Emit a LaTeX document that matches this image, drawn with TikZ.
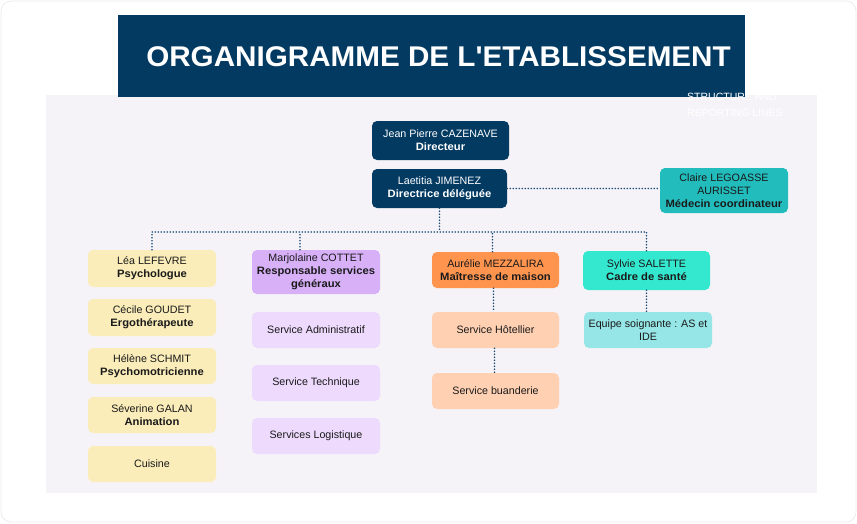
\documentclass[tikz,border=0pt]{standalone}
\usepackage{fontspec}
\setmainfont{Liberation Sans}[BoldFeatures={FakeStretch=1.05}]
\newfontfamily\titlefont{Liberation Sans Bold}[FakeStretch=1.04]
\definecolor{navy}{HTML}{033A62}
\definecolor{panel}{HTML}{F5F3F7}
\definecolor{teal}{HTML}{22BCBD}
\definecolor{yel}{HTML}{FAEDBA}
\definecolor{purh}{HTML}{D7B0F8}
\definecolor{purl}{HTML}{EDDAFD}
\definecolor{orh}{HTML}{FF944F}
\definecolor{orl}{HTML}{FFD0B2}
\definecolor{tqh}{HTML}{33E8CF}
\definecolor{tql}{HTML}{97E6E7}
\definecolor{dotc}{HTML}{1E4D78}
\definecolor{txt}{HTML}{1A1A1A}
\tikzset{
  x=1pt, y=-1pt,
  box/.style={rectangle, rounded corners=5pt, inner sep=0pt, align=center,
    minimum width=128pt, minimum height=37pt, text=txt,
    font=\fontsize{10.7}{12.8}\selectfont},
  navybox/.style={box, fill=navy, text=white, minimum height=39pt},
  dotline/.style={draw=dotc, line width=1.8pt, line cap=round, dash pattern=on 0pt off 3pt},
}
\begin{document}
\begin{tikzpicture}
\useasboundingbox (0,0) rectangle (857,523);
\draw[draw=black!8, rounded corners=10pt, line width=0.8pt] (1,1) rectangle (856,522);
\fill[panel] (46,95) rectangle (817,493);
\fill[navy] (118,15) rectangle (745,97);
\node[text=white, font=\titlefont\fontsize{28.5}{30}\selectfont] (title) at (438.5,57) {ORGANIGRAMME DE L'ETABLISSEMENT};
\node[text=white, anchor=west, align=left, inner sep=0pt, font=\fontsize{10.5}{16}\selectfont] (faint) at (687,105) {STRUCTURE AND\\REPORTING LINES};

\node[navybox, minimum width=137pt] (dir) at (440.5,140.5) {Jean Pierre CAZENAVE\\\textbf{Directeur}};
\node[navybox, minimum width=135pt] (dd) at (439.5,188.5) {Laetitia JIMENEZ\\\textbf{Directrice déléguée}};
\node[box, fill=teal, minimum height=45pt] (claire) at (724,190.5) {Claire LEGOASSE\\AURISSET\\\textbf{Médecin coordinateur}};

\node[box, fill=yel] (lea) at (152,268.5) {Léa LEFEVRE\\\textbf{Psychologue}};
\node[box, fill=yel] (cecile) at (152,317.5) {Cécile GOUDET\\\textbf{Ergothérapeute}};
\node[box, fill=yel, minimum height=36pt] (helene) at (152,366) {Hélène SCHMIT\\\textbf{Psychomotricienne}};
\node[box, fill=yel, minimum height=36pt] (severine) at (152,415) {Séverine GALAN\\\textbf{Animation}};
\node[box, fill=yel, minimum height=36pt] (cuisine) at (152,464) {Cuisine};

\node[box, fill=purh, minimum height=44pt] (marj) at (316,272) {Marjolaine COTTET\\\textbf{Responsable services}\\\textbf{généraux}};
\node[box, fill=purl, minimum height=36pt] (sadm) at (316,330) {Service Administratif};
\node[box, fill=purl, minimum height=36pt] (stech) at (316,383) {Service Technique};
\node[box, fill=purl, minimum height=36pt] (slog) at (316,436) {Services Logistique};

\node[box, fill=orh, minimum width=127pt, minimum height=36pt] (aur) at (495.5,270) {Aurélie MEZZALIRA\\\textbf{Maîtresse de maison}};
\node[box, fill=orl, minimum width=127pt, minimum height=36pt] (hot) at (495.5,330) {Service Hôtellier};
\node[box, fill=orl, minimum width=127pt, minimum height=36pt] (buan) at (495.5,391) {Service buanderie};

\node[box, fill=tqh, minimum width=127pt, minimum height=39pt] (syl) at (646.5,270.5) {Sylvie SALETTE\\\textbf{Cadre de santé}};
\node[box, fill=tql, minimum height=36pt] (equipe) at (648,330) {Equipe soignante : AS et\\IDE};

\coordinate (bus) at (151,232);
\draw[dotline] (dd.south) -- (dd.south |- bus);
\draw[dotline] (lea.north) -- (lea.north |- bus) -| (syl.north);
\draw[dotline] ([xshift=-16pt]marj.north) -- ([xshift=-16pt]marj.north |- bus);
\draw[dotline] ([xshift=-3pt]aur.north) -- ([xshift=-3pt]aur.north |- bus);
\draw[dotline] (dd.east) -- (dd.east -| claire.west);
\draw[dotline] ([xshift=-2pt]aur.south) -- ([xshift=-2pt]hot.north);
\draw[dotline] ([xshift=-1pt]hot.south) -- ([xshift=-1pt]buan.north);
\draw[dotline] (syl.south) -- (syl.south |- equipe.north);
\end{tikzpicture}
\end{document}
